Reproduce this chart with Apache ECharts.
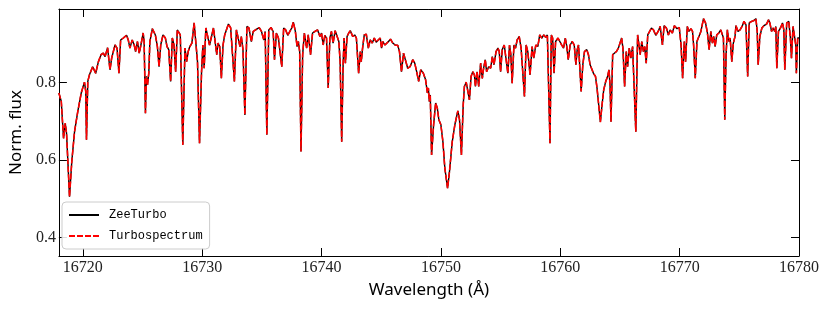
<!DOCTYPE html>
<html>
<head>
<meta charset="utf-8">
<script src="https://cdn.jsdelivr.net/npm/echarts@6/dist/echarts.min.js"></script>
<style>
html,body{margin:0;padding:0;background:#fff;}
#chart{width:830px;height:311px;}
</style>
</head>
<body>
<div id="chart"></div>
<script>
const wavelength = [
16718.00,16718.20,16718.31,16718.39,16718.53,16718.64,16718.89,16719.08,16719.31,16719.58,
16719.87,16720.14,16720.25,16720.31,16720.42,16720.56,16720.67,16720.83,16721.08,16721.31,
16721.53,16721.72,16721.87,16722.08,16722.28,16722.42,16722.56,16722.70,16722.87,16723.03,
16723.17,16723.39,16723.67,16723.81,16723.95,16724.14,16724.31,16724.42,16724.58,16724.73,
16724.87,16725.06,16725.14,16725.25,16725.33,16725.42,16725.53,16725.62,16725.83,16726.08,
16726.25,16726.39,16726.53,16726.72,16726.92,16727.06,16727.20,16727.36,16727.50,16727.64,
16727.78,16727.92,16728.03,16728.17,16728.38,
16728.56,16728.70,16728.83,16728.97,16729.14,16729.33,16729.47,16729.61,16729.78,16729.95,
16730.06,16730.17,16730.31,16730.45,16730.62,16730.78,16730.95,16731.08,16731.22,16731.33,
16731.47,16731.61,16731.75,16731.89,16732.03,16732.20,16732.39,16732.53,16732.70,16732.87,
16733.03,16733.17,16733.28,16733.42,16733.58,16733.75,16733.92,16734.12,16734.28,16734.47,
16734.61,16734.78,16734.97,16735.17,16735.28,16735.42,16735.58,16735.78,16735.95,16736.06,
16736.22,16736.39,16736.53,16736.67,16736.83,16737.00,16737.17,16737.33,16737.50,16737.64,
16737.81,16737.95,16738.06,16738.17,16738.28,16738.42,16738.56,
16738.75,16738.89,16739.08,16739.25,16739.45,16739.67,16739.87,16740.00,16740.14,16740.28,
16740.42,16740.56,16740.70,16740.83,16740.97,16741.14,16741.31,16741.45,16741.56,16741.69,
16741.81,16741.89,16742.00,16742.14,16742.28,16742.42,16742.61,16742.78,16742.92,16743.11,
16743.25,16743.33,16743.44,16743.58,16743.75,16743.92,16744.08,16744.25,16744.42,16744.58,
16744.75,16744.92,16745.03,16745.14,16745.31,16745.47,16745.61,16745.78,16745.97,16746.17,
16746.39,16746.53,16746.70,16746.87,16747.03,16747.22,16747.42,16747.64,16747.81,16747.97,
16748.14,16748.31,16748.53,16748.72,16748.87,16748.95,16749.03,16749.11,16749.22,16749.39,
16749.56,16749.70,16749.83,16750.00,16750.17,16750.33,16750.56,16750.72,16750.95,16751.17,
16751.42,16751.56,16751.72,16751.87,16751.97,16752.12,16752.28,16752.39,16752.53,16752.67,
16752.81,16752.89,16753.03,16753.17,16753.33,16753.47,16753.58,16753.72,16753.83,16754.00,
16754.17,16754.31,16754.45,16754.62,16754.78,16754.89,16755.00,16755.14,16755.31,16755.47,
16755.61,16755.75,16755.86,16755.97,16756.12,16756.25,16756.39,16756.56,16756.72,16756.86,
16757.00,16757.14,16757.28,16757.47,16757.64,16757.78,16757.95,16758.12,16758.28,16758.45,
16758.62,16758.78,16758.92,16759.14,16759.25,16759.36,16759.48,16759.61,16759.81,16759.97,
16760.12,16760.28,16760.42,16760.53,16760.67,16760.83,16761.00,16761.17,16761.31,16761.42,
16761.53,16761.61,16761.75,16761.89,16762.03,16762.22,16762.36,16762.50,16762.64,16762.78,
16762.95,16763.08,16763.22,16763.36,16763.50,16763.64,16763.81,16763.97,16764.08,16764.17,
16764.25,16764.39,16764.53,16764.70,16764.87,16765.03,16765.14,16765.25,16765.39,16765.53,
16765.64,16765.78,16765.92,16766.06,16766.20,16766.33,16766.48,16766.58,16766.70,16766.83,
16766.97,16767.08,16767.20,16767.33,16767.47,16767.64,16767.81,16768.00,16768.20,16768.37,
16768.48,16768.56,16768.70,16768.89,16769.06,16769.20,16769.39,16769.56,16769.78,16769.97,
16770.12,16770.25,16770.39,16770.50,16770.64,16770.78,16770.95,16771.08,16771.17,16771.31,
16771.45,16771.58,16771.78,16772.00,16772.17,16772.33,16772.47,16772.61,16772.75,16772.86,
16772.97,16773.11,16773.28,16773.45,16773.58,16773.67,16773.78,16773.89,16774.00,16774.12,
16774.23,16774.37,16774.50,16774.64,16774.72,16774.89,16775.06,16775.23,16775.39,16775.56,
16775.70,16775.83,16776.03,16776.22,16776.39,16776.50,16776.58,16776.72,16776.89,16777.06,
16777.28,16777.45,16777.56,16777.70,16777.83,16777.97,16778.06,16778.14,16778.28,16778.45,
16778.62,16778.73,16778.81,16778.97,16779.14,16779.28,16779.37,16779.50,16779.62,16779.73,
16779.78,16779.89,16780.00
];
const fluxZeeTurbo = [
0.773,0.751,0.695,0.656,0.695,0.669,0.505,0.596,0.673,0.725,
0.773,0.801,0.777,0.652,0.803,0.820,0.816,0.841,0.824,0.854,
0.872,0.876,0.867,0.890,0.833,0.863,0.867,0.897,0.889,0.824,
0.910,0.915,0.922,0.910,0.889,0.910,0.897,0.880,0.906,0.876,
0.897,0.928,0.906,0.721,0.816,0.794,0.824,0.906,0.939,0.923,
0.893,0.841,0.897,0.923,0.915,0.893,0.885,0.803,0.915,0.897,
0.828,0.936,0.941,0.923,0.639,
0.889,0.854,0.880,0.893,0.902,0.954,0.949,0.854,0.643,0.828,
0.897,0.837,0.941,0.945,0.897,0.902,0.941,0.936,0.872,0.902,
0.893,0.811,0.897,0.923,0.928,0.951,0.941,0.936,0.803,0.936,
0.939,0.893,0.919,0.885,0.716,0.945,0.941,0.906,0.932,0.936,
0.932,0.942,0.932,0.910,0.932,0.665,0.936,0.942,0.932,0.859,
0.928,0.915,0.919,0.841,0.941,0.936,0.922,0.923,0.941,0.956,
0.932,0.893,0.906,0.880,0.622,0.872,0.928,
0.889,0.923,0.872,0.928,0.932,0.936,0.919,0.928,0.897,0.922,
0.915,0.786,0.915,0.932,0.902,0.934,0.919,0.906,0.854,0.647,
0.846,0.915,0.850,0.919,0.928,0.934,0.919,0.923,0.915,0.824,
0.880,0.854,0.889,0.923,0.925,0.889,0.910,0.902,0.915,0.904,
0.910,0.915,0.889,0.906,0.897,0.893,0.906,0.912,0.902,0.897,
0.896,0.880,0.828,0.876,0.872,0.837,0.841,0.859,0.850,0.828,
0.803,0.833,0.824,0.807,0.773,0.786,0.751,0.768,0.613,0.691,
0.747,0.734,0.704,0.691,0.647,0.579,0.527,0.570,0.647,0.691,
0.727,0.704,0.613,0.742,0.790,0.801,0.803,0.755,0.816,0.828,
0.820,0.790,0.828,0.790,0.850,0.811,0.837,0.859,0.828,0.841,
0.837,0.867,0.846,0.880,0.889,0.880,0.828,0.885,0.897,0.899,
0.824,0.897,0.872,0.798,0.897,0.889,0.910,0.919,0.889,0.893,
0.764,0.897,0.880,0.820,0.893,0.863,0.897,0.893,0.923,0.915,
0.923,0.917,0.923,0.643,0.923,0.915,0.824,0.906,0.915,0.919,
0.897,0.889,0.915,0.897,0.859,0.897,0.906,0.897,0.846,0.885,
0.897,0.854,0.777,0.846,0.880,0.885,0.872,0.846,0.850,0.824,
0.816,0.786,0.742,0.698,0.742,0.781,0.803,0.816,0.833,0.794,
0.699,0.872,0.876,0.880,0.889,0.893,0.915,0.889,0.790,0.880,
0.841,0.889,0.863,0.893,0.897,0.673,0.923,0.928,0.872,0.906,
0.880,0.893,0.850,0.923,0.928,0.941,0.936,0.922,0.932,0.945,
0.941,0.897,0.947,0.941,0.923,0.936,0.928,0.947,0.939,0.942,
0.897,0.811,0.906,0.854,0.945,0.932,0.939,0.932,0.897,0.811,
0.906,0.902,0.932,0.965,0.954,0.928,0.885,0.932,0.902,0.919,
0.893,0.923,0.928,0.936,0.941,0.915,0.704,0.872,0.936,0.906,
0.915,0.854,0.902,0.919,0.947,0.932,0.936,0.945,0.958,0.949,
0.816,0.954,0.958,0.960,0.965,0.932,0.846,0.919,0.941,0.947,
0.951,0.962,0.954,0.932,0.941,0.932,0.945,0.837,0.932,0.941,
0.954,0.936,0.833,0.954,0.958,0.915,0.863,0.945,0.941,0.897,
0.824,0.915,0.915
];
// Turbospectrum curve is visually indistinguishable from ZeeTurbo in the reference
const fluxTurbospectrum = fluxZeeTurbo.slice();
const seriesNames = ['ZeeTurbo', 'Turbospectrum'];
const xTicks = [16720, 16730, 16740, 16750, 16760, 16770, 16780];
const yTicks = [0.4, 0.6, 0.8];

const chart = echarts.init(document.getElementById('chart'), null, {renderer: 'canvas'});
const zee = wavelength.map((w, i) => [w, fluxZeeTurbo[i]]);
const ts = wavelength.map((w, i) => [w, fluxTurbospectrum[i]]);
const serifFont = 'Liberation Serif';
const axisLineStyle = {color: '#000', width: 1};
const tickCommon = {show: true, inside: true, length: 8, lineStyle: {color: '#000', width: 1}};

chart.setOption({
  animation: false,
  backgroundColor: '#fff',
  grid: {left: 55, right: 31, top: 9, bottom: 55, containLabel: false},
  legend: {
    data: seriesNames,
    orient: 'vertical',
    left: 62, top: 202,
    itemWidth: 30, itemHeight: 14, itemGap: 9,
    padding: [7, 7, 7, 6],
    borderColor: '#cccccc', borderWidth: 1, borderRadius: 4,
    backgroundColor: 'rgba(255,255,255,0.85)',
    itemStyle: {opacity: 0},
    textStyle: {fontFamily: 'Liberation Mono', fontSize: 12, color: '#000', padding: [0, 0, 0, 5]}
  },
  xAxis: [{
    type: 'value', min: 16718, max: 16780, position: 'bottom',
    name: 'Wavelength (Å)', nameLocation: 'middle', nameGap: 26,
    nameTextStyle: {fontFamily: 'Noto Sans', fontSize: 17, color: '#000'},
    axisLine: {show: true, lineStyle: axisLineStyle},
    axisTick: Object.assign({customValues: xTicks}, tickCommon),
    axisLabel: {customValues: xTicks, margin: 4, fontFamily: serifFont, fontSize: 16, color: '#222',
      formatter: v => String(Math.round(v))},
    splitLine: {show: false}
  }, {
    type: 'value', min: 16718, max: 16780, position: 'top',
    axisLine: {show: true, lineStyle: axisLineStyle},
    axisTick: Object.assign({customValues: xTicks}, tickCommon),
    axisLabel: {show: false},
    splitLine: {show: false}
  }],
  yAxis: [{
    type: 'value', min: 0.352, max: 0.99, position: 'left',
    name: 'Norm. flux', nameLocation: 'middle', nameGap: 28, nameRotate: 90,
    nameTextStyle: {fontFamily: 'Noto Sans', fontSize: 17, color: '#000'},
    axisLine: {show: true, lineStyle: axisLineStyle},
    axisTick: Object.assign({customValues: yTicks}, tickCommon),
    axisLabel: {customValues: yTicks, margin: 3, fontFamily: serifFont, fontSize: 16, color: '#222',
      formatter: v => v.toFixed(1)},
    splitLine: {show: false}
  }, {
    type: 'value', min: 0.352, max: 0.99, position: 'right',
    axisLine: {show: true, lineStyle: axisLineStyle},
    axisTick: Object.assign({customValues: yTicks}, tickCommon),
    axisLabel: {show: false},
    splitLine: {show: false}
  }],
  series: [{
    name: seriesNames[0], type: 'line', data: zee, xAxisIndex: 0, yAxisIndex: 0,
    symbol: 'none', smooth: false, color: '#000',
    lineStyle: {color: '#000', width: 1.4}
  }, {
    name: seriesNames[1], type: 'line', data: ts, xAxisIndex: 0, yAxisIndex: 0,
    symbol: 'none', smooth: false, color: '#ff0000',
    lineStyle: {color: '#ff0000', width: 1.6, type: [6, 2]}
  }]
});
</script>
</body>
</html>
